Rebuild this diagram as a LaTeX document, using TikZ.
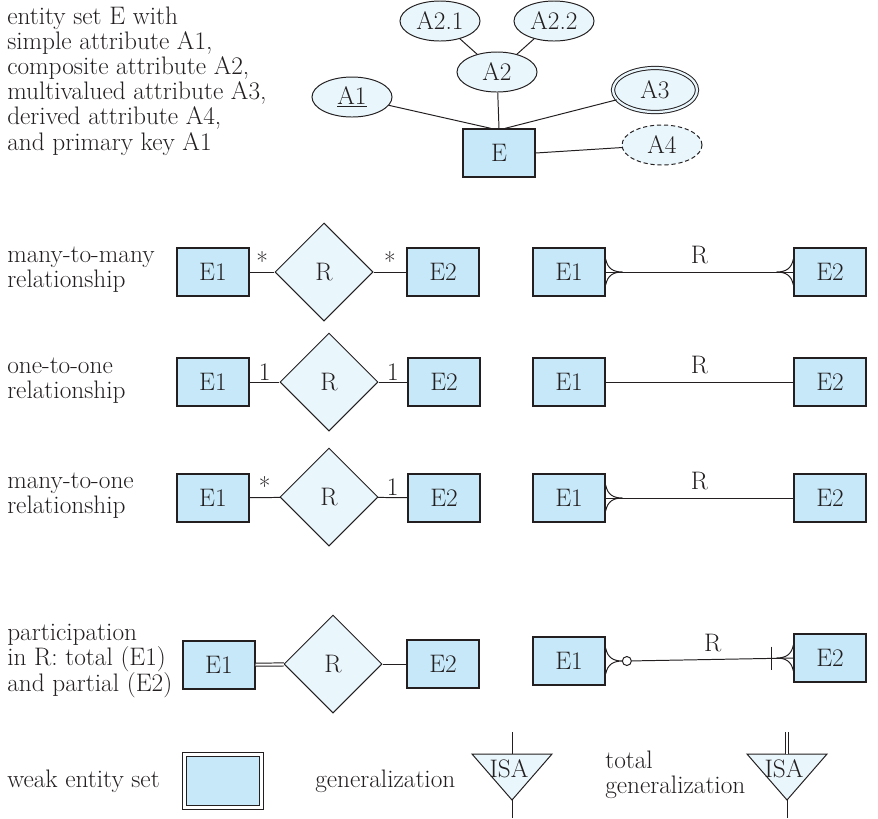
\documentclass[tikz,border=0pt]{standalone}
\usepackage{fontspec}
\usetikzlibrary{shapes.geometric}

\definecolor{ink}{RGB}{35,31,32}
\definecolor{entblue}{RGB}{198,232,248}
\definecolor{attblue}{RGB}{233,246,252}

\tikzset{
  entity/.style={draw=ink, line width=0.9pt, fill=entblue, minimum width=1.8cm,
                 minimum height=1.2cm, inner sep=0pt},
  attrib/.style={ellipse, draw=ink, line width=0.7pt, fill=attblue, minimum width=2cm,
                 minimum height=1cm, inner sep=0pt},
  relship/.style={diamond, aspect=1, draw=ink, line width=0.7pt, fill=attblue,
                  minimum width=2.45cm, minimum height=2.45cm, inner sep=0pt},
  conn/.style={draw=ink, line width=0.7pt},
  card/.style={above=0pt, inner sep=1pt},
  rowlabel/.style={anchor=west, align=left, inner sep=0pt},
}

% crow's foot: #1 = point on the box edge, #2 = 1 (opens to the right) or -1
\newcommand{\crowfoot}[2]{%
  \begin{scope}[shift={(#1)}, xscale=#2]
    \draw[conn] (0,-13) .. controls (2,-3) and (8,0) .. (17,0)
                .. controls (8,0) and (2,3) .. (0,13);
  \end{scope}}

\begin{document}
\begin{tikzpicture}[x=0.025cm, y=-0.025cm, font=\fontsize{18}{17.8}\selectfont, text=ink]
    \useasboundingbox (0,0) rectangle (878,818);

    % entity set E and its attributes
    \node[rowlabel, anchor=north west] (lblE) at (7,7) {entity set E with\\simple attribute A1,\\composite attribute A2,\\multivalued attribute A3,\\derived attribute A4,\\and primary key A1};
    \node[entity] (E) at (499,153) {E};
    \node[attrib] (A1) at (352,97) {\underline{A1}};
    \node[attrib] (A2) at (497,72) {A2};
    \node[attrib] (A21) at (440,21) {A2.1};
    \node[attrib] (A22) at (554,21) {A2.2};
    \node[attrib, double=attblue, double distance=1.6pt, minimum width=2.1cm, minimum height=1.1cm] (A3) at (655,90) {A3};
    \node[attrib, dash pattern=on 3pt off 2pt] (A4) at (662,145) {A4};
    \draw[conn] (A1) -- ([xshift=-0.2cm]E.north);
    \draw[conn] (A2) -- (E.north);
    \draw[conn] (A3) -- ([xshift=0.15cm]E.north);
    \draw[conn] (E.east) -- (A4);
    \draw[conn] (A21) -- (A2);
    \draw[conn] (A22) -- (A2);

    % many-to-many
    \node[rowlabel] (lblMM) at (7,270) {many-to-many\\relationship};
    \node[entity] (E1a) at (213,272) {E1};
    \node[relship] (Ra) at (324,272) {R};
    \node[entity] (E2a) at (443,272) {E2};
    \draw[conn] (E1a) -- (Ra) node[midway, card] {*};
    \draw[conn] (Ra) -- (E2a) node[midway, card] {*};
    \node[entity] (F1a) at (569,272) {E1};
    \node[entity] (F2a) at (830,272) {E2};
    \draw[conn] (F1a) -- (F2a) node[midway, above=2pt] {R};
    \crowfoot{F1a.east}{1}
    \crowfoot{F2a.west}{-1}

    % one-to-one
    \node[rowlabel] (lblOO) at (7,381) {one-to-one\\relationship};
    \node[entity] (E1b) at (213,382) {E1};
    \node[relship] (Rb) at (329,382) {R};
    \node[entity] (E2b) at (444,382) {E2};
    \draw[conn] (E1b) -- (Rb) node[midway, card] {1};
    \draw[conn] (Rb) -- (E2b) node[midway, card] {1};
    \node[entity] (F1b) at (569,382) {E1};
    \node[entity] (F2b) at (830,382) {E2};
    \draw[conn] (F1b) -- (F2b) node[midway, above=2pt] {R};

    % many-to-one
    \node[rowlabel] (lblMO) at (7,496) {many-to-one\\relationship};
    \node[entity] (E1c) at (213,498) {E1};
    \node[relship] (Rc) at (329,497) {R};
    \node[entity] (E2c) at (444,498) {E2};
    \draw[conn] (E1c) -- (Rc) node[midway, card] {*};
    \draw[conn] (Rc) -- (E2c) node[midway, card] {1};
    \node[entity] (F1c) at (569,498) {E1};
    \node[entity] (F2c) at (830,498) {E2};
    \draw[conn] (F1c) -- (F2c) node[midway, above=2pt] {R};
    \crowfoot{F1c.east}{1}

    % participation
    \node[rowlabel] (lblPT) at (7,661) {participation\\in R: total (E1)\\and partial (E2)};
    \node[entity] (E1d) at (219,665) {E1};
    \node[relship] (Rd) at (333,664) {R};
    \node[entity] (E2d) at (443,664) {E2};
    \draw[conn, double=white, double distance=1.5pt] (E1d) -- (Rd);
    \draw[conn] (Rd) -- (E2d);
    \node[entity] (F1d) at (569,661) {E1};
    \node[entity] (F2d) at (830,658) {E2};
    \node[circle, draw=ink, line width=0.7pt, fill=white, inner sep=0pt, minimum size=0.225cm] (zero) at ([xshift=0.53cm]F1d.east) {};
    \draw[conn] (zero) -- (F2d.west) node[midway, above=2pt] {R};
    \crowfoot{F1d.east}{1}
    \crowfoot{F2d.west}{-1}
    \draw[conn] ([xshift=-0.55cm]F2d.west) ++(0,-11.5) -- ++(0,23); % bar: at least one

    % weak entity set and generalization
    \node[rowlabel] (lblW) at (7,781) {weak entity set};
    \node[entity, double=white, double distance=2pt, minimum width=1.925cm, minimum height=1.325cm] (W) at (223,781) {};
    \node[rowlabel] (lblG) at (315,781) {generalization};
    \coordinate (g1top) at (512,754);
    \coordinate (g1bot) at (512,800);
    \draw[conn, fill=attblue] (472,754) -- (552,754) -- (g1bot) -- cycle;
    \node (isa1) at (509,769) {ISA};
    \draw[conn] (g1top) -- (512,732);
    \draw[conn] (g1bot) -- (512,818);
    \node[rowlabel] (lblTG) at (605,775) {total\\generalization};
    \coordinate (g2top) at (787,754);
    \coordinate (g2bot) at (787,800);
    \draw[conn, fill=attblue] (747,754) -- (827,754) -- (g2bot) -- cycle;
    \node (isa2) at (784,769) {ISA};
    \draw[conn, double=white, double distance=1.5pt] (g2top) -- (787,732);
    \draw[conn] (g2bot) -- (787,818);
\end{tikzpicture}
\end{document}
